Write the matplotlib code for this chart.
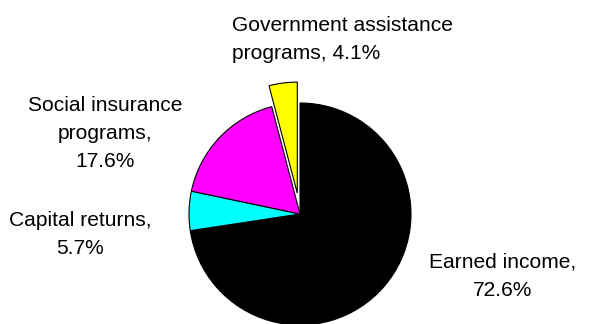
import matplotlib.pyplot as plt

#-->Datos del gráfico
categorias = ["Earned income", "Capital returns", "Social insurance programs", "Government assistance programs"]
valores = [72.6, 5.7, 17.6, 4.1]
colores = ["#000000", "#00FFFF", "#FF00FF", "#FFFF00"]
etiquetas = [
    "Earned income,\n72.6%",
    "Capital returns,\n5.7%",
    "Social insurance\nprograms,\n17.6%",
    "Government assistance\nprograms, 4.1%",
]

plt.rcParams["font.family"] = ["Liberation Sans", "DejaVu Sans"]

fig = plt.figure(figsize=(5.93, 3.24), dpi=100)
ax = fig.add_axes([0, 0, 1, 1])

#-->Pastel (coordenadas en píxeles, y hacia arriba)
radio = 111
separacion = [0, 0, 0, 0.19 * radio]
ax.pie(valores, colors=colores, explode=separacion, startangle=90, counterclock=False,
       center=(300, 110), radius=radio, frame=True,
       wedgeprops={"edgecolor": "black", "linewidth": 0.8})
ax.set_xlim(0, 593)
ax.set_ylim(0, 324)
ax.set_aspect("equal")
ax.axis("off")

#-->Etiquetas
fs = 15.1
ls = 1.6
ax.text(232, 308, etiquetas[3], ha="left", va="top", fontsize=fs, linespacing=ls)
ax.text(105, 228, etiquetas[2], ha="center", va="top", fontsize=fs, linespacing=ls)
ax.text(80, 113, etiquetas[1], ha="center", va="top", fontsize=fs, linespacing=ls)
ax.text(503, 71, etiquetas[0], ha="center", va="top", fontsize=fs, linespacing=ls)

fig.savefig("out.png", dpi=100, facecolor="white")
